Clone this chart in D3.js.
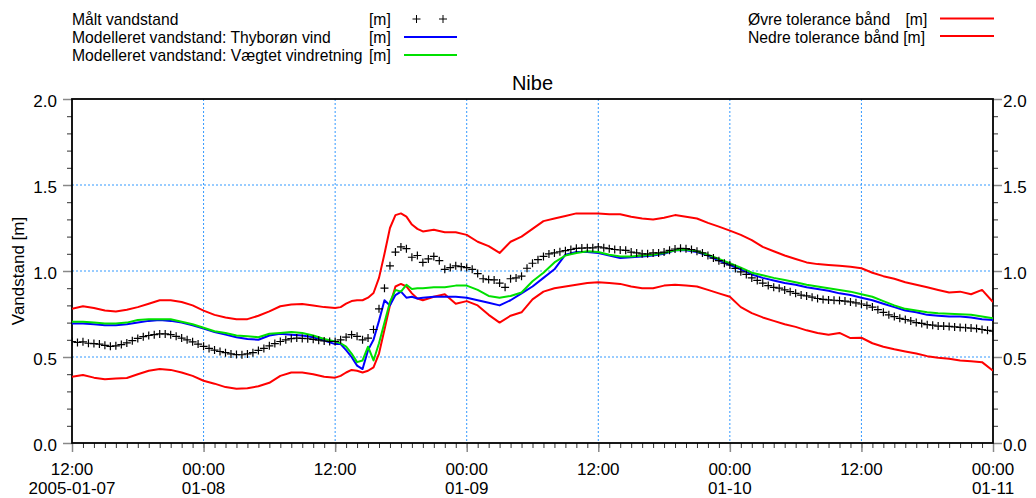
<!DOCTYPE html>
<html><head><meta charset="utf-8">
<script src="https://cdn.jsdelivr.net/npm/d3@7"></script>
<style>
body{margin:0;background:#fff}
svg{display:block;font-family:"Liberation Sans",Arial,sans-serif}
</style>
</head><body>
<svg id="c" width="1036" height="498"></svg>
<script>
// ---------- data ----------
const startTime = Date.UTC(2005, 0, 7, 12);
const endTime = Date.UTC(2005, 0, 11, 0);

const chartTitle = "Nibe";
const yAxisTitle = "Vandstand [m]";

const modelHours = [0,1,2,3,4,5,6,7,8,9,10,11,12,13,14,15,16,17,18,19,20,21,22,23,24,
  24.5,25,25.5,26,26.5,27,27.5,28,28.5,29,29.5,30,30.5,31,31.5,32,
  33,34,35,36,37,38,39,40,41,42,43,44,45,46,47,48,49,50,51,52,53,54,55,56,57,58,59,60,
  61,62,63,64,65,66,67,68,69,70,71,72,73,74,75,76,77,78,79,80,81,82,83,84];

const upperBand = [.78,.795,.785,.77,.765,.775,.79,.81,.83,.83,.82,.80,.77,.745,.73,.72,.72,.74,.765,.795,.805,.808,.80,.79,.785,
  .79,.81,.825,.83,.83,.845,.872,.96,1.10,1.25,1.325,1.335,1.316,1.27,1.245,1.23,
  1.24,1.225,1.225,1.21,1.17,1.145,1.105,1.17,1.20,1.245,1.29,1.305,1.32,1.335,1.335,1.335,1.33,1.33,1.315,1.305,
  1.30,1.31,1.325,1.315,1.305,1.28,1.258,1.235,1.21,1.18,1.14,1.115,1.09,1.07,1.05,1.04,1.035,1.03,1.025,1.016,
  .99,.97,.955,.935,.92,.905,.89,.875,.88,.865,.89,.82];

const lowerBand = [.385,.395,.38,.37,.375,.378,.40,.42,.43,.425,.41,.39,.362,.345,.325,.315,.318,.33,.35,.39,.41,.41,.40,.385,.38,
  .39,.41,.425,.42,.41,.42,.44,.52,.66,.80,.91,.925,.91,.87,.84,.83,
  .85,.865,.81,.825,.80,.745,.70,.74,.76,.835,.88,.90,.91,.92,.93,.935,.93,.925,.91,.90,
  .90,.915,.92,.915,.91,.89,.87,.85,.79,.755,.73,.71,.69,.675,.655,.64,.63,.64,.61,.612,
  .58,.56,.545,.532,.52,.505,.495,.49,.48,.475,.47,.42];

const modelThyboron = [.695,.695,.69,.685,.685,.69,.70,.71,.715,.71,.70,.685,.665,.645,.63,.615,.605,.60,.625,.635,.63,.625,.615,.595,.575,
  .575,.54,.50,.45,.43,.54,.60,.71,.83,.80,.86,.88,.845,.85,.84,.845,
  .85,.85,.85,.845,.83,.815,.80,.83,.87,.91,.96,1.01,1.095,1.11,1.11,1.105,1.09,1.075,1.08,1.085,
  1.09,1.10,1.12,1.12,1.11,1.09,1.06,1.035,1.01,.98,.96,.945,.93,.92,.905,.895,.885,.87,.86,.845,
  .83,.81,.79,.77,.76,.745,.74,.735,.735,.73,.72,.715];

const modelWeighted = [.705,.705,.70,.695,.695,.70,.715,.72,.72,.72,.705,.69,.67,.65,.64,.625,.62,.615,.635,.64,.645,.64,.625,.605,.59,
  .58,.56,.52,.47,.48,.56,.48,.58,.70,.82,.89,.88,.92,.895,.90,.90,
  .905,.905,.915,.915,.89,.855,.845,.855,.875,.94,.99,1.05,1.09,1.105,1.115,1.11,1.095,1.085,1.085,1.09,
  1.095,1.105,1.12,1.125,1.115,1.095,1.07,1.045,1.02,.99,.975,.96,.948,.935,.92,.91,.90,.89,.88,.865,
  .85,.825,.80,.78,.77,.76,.755,.752,.748,.745,.735,.725];

const measuredHours = d3.range(0, 84.001, 0.5);
const measured = [.590,.585,.588,.580,.578,.575,.568,.562,.565,.572,.582,.595,.608,.618,.625,.630,.634,.634,.630,.620,
  .610,.600,.588,.575,.562,.550,.540,.532,.525,.518,.514,.513,.518,.525,.538,.550,.565,.578,.590,.600,
  .607,.610,.608,.606,.603,.598,.593,.590,.590,
  .600,.615,.630,.620,.600,.610,.660,.780,.900,1.030,1.110,1.140,1.130,1.080,1.090,1.050,
  1.07,1.085,1.06,1.01,1.02,1.03,1.025,1.02,1.01,.985,
  .955,.95,.948,.93,.905,.955,.96,.97,1.016,1.045,
  1.066,1.085,1.099,1.105,1.112,1.118,1.125,1.132,1.133,1.135,
  1.135,1.14,1.135,1.13,1.125,1.122,1.12,1.11,1.105,1.10,
  1.10,1.105,1.105,1.11,1.12,1.128,1.132,1.13,1.125,1.115,
  1.105,1.09,1.075,1.06,1.045,1.035,1.015,.995,.98,.96,
  .945,.93,.915,.905,.90,.89,.88,.87,.86,.855,
  .848,.84,.835,.832,.83,.828,.825,.82,.815,.808,
  .80,.79,.775,.76,.745,.735,.725,.718,.71,.70,
  .695,.688,.685,.68,.68,.678,.675,.672,.67,.668,
  .665,.66,.655,.65];

const yMajorTicks = [0, 0.5, 1.0, 1.5, 2.0];
const yTickLabels = ["0.0", "0.5", "1.0", "1.5", "2.0"];

const legendLeft = [
  {label: "Målt vandstand", unit: "[m]", kind: "plus"},
  {label: "Modelleret vandstand: Thyborøn vind", unit: "[m]", kind: "line", color: "#0000ff"},
  {label: "Modelleret vandstand: Vægtet vindretning", unit: "[m]", kind: "line", color: "#00e000"}
];
const legendRight = [
  {label: "Øvre tolerance bånd", unit: "[m]", color: "#ff0000"},
  {label: "Nedre tolerance bånd", unit: "[m]", color: "#ff0000"}
];

// ---------- chart ----------
const svg = d3.select("#c");
const P = {l: 72, r: 993, t: 99, b: 443};
const x = d3.scaleUtc().domain([new Date(startTime), new Date(endTime)]).range([P.l, P.r]);
const y = d3.scaleLinear().domain([0, 2]).range([P.b, P.t]);
const toDate = h => new Date(startTime + h * 3600e3);

svg.append("defs").append("clipPath").attr("id", "clip")
  .append("rect").attr("x", P.l).attr("y", P.t).attr("width", P.r - P.l).attr("height", P.b - P.t);

// grid
const gridColor = "#3399ff";
const majorX = d3.utcHour.every(12).range(new Date(startTime), new Date(endTime + 1));
svg.append("g").selectAll("line").data(majorX.filter(d => +d > startTime && +d < endTime)).join("line")
  .attr("x1", d => x(d)).attr("x2", d => x(d)).attr("y1", P.t).attr("y2", P.b)
  .attr("stroke", gridColor).attr("stroke-width", 1).attr("stroke-dasharray", "2,2");
svg.append("g").selectAll("line").data(yMajorTicks.filter(v => v > 0 && v < 2)).join("line")
  .attr("x1", P.l).attr("x2", P.r).attr("y1", d => y(d)).attr("y2", d => y(d))
  .attr("stroke", gridColor).attr("stroke-width", 1).attr("stroke-dasharray", "2,2");

// axes ticks
function styleAxis(g, color, w) {
  g.select(".domain").remove();
  g.selectAll(".tick line").attr("stroke", color).attr("stroke-width", w);
  g.selectAll(".tick text").remove();
}
const hourly = d3.utcHour.every(1).range(new Date(startTime), new Date(endTime + 1));
svg.append("g").attr("transform", `translate(0,${P.b})`)
  .call(d3.axisBottom(x).tickValues(hourly).tickSize(5)).call(g => styleAxis(g, "#333", 1));
svg.append("g").attr("transform", `translate(0,${P.b})`)
  .call(d3.axisBottom(x).tickValues(majorX).tickSize(9)).call(g => styleAxis(g, "#888", 1.5));

const yMinor = d3.range(0, 2.001, 0.1);
svg.append("g").attr("transform", `translate(${P.l},0)`)
  .call(d3.axisLeft(y).tickValues(yMinor).tickSize(5)).call(g => styleAxis(g, "#333", 1));
svg.append("g").attr("transform", `translate(${P.l},0)`)
  .call(d3.axisLeft(y).tickValues(yMajorTicks).tickSize(9)).call(g => styleAxis(g, "#888", 1.5));
svg.append("g").attr("transform", `translate(${P.r},0)`)
  .call(d3.axisRight(y).tickValues(yMinor).tickSize(5)).call(g => styleAxis(g, "#333", 1));
svg.append("g").attr("transform", `translate(${P.r},0)`)
  .call(d3.axisRight(y).tickValues(yMajorTicks).tickSize(9)).call(g => styleAxis(g, "#888", 1.5));

// tick labels
const lblFont = 17;
svg.append("g").selectAll("text").data(yMajorTicks).join("text")
  .attr("x", P.l - 15).attr("y", d => y(d) + 7.5).attr("text-anchor", "end")
  .attr("font-size", lblFont).attr("fill", "#000").text((d, i) => yTickLabels[i]);
svg.append("g").selectAll("text").data(yMajorTicks).join("text")
  .attr("x", P.r + 10).attr("y", d => y(d) + 7.5).attr("text-anchor", "start")
  .attr("font-size", lblFont).attr("fill", "#000").text((d, i) => yTickLabels[i]);

const fmtTime = d3.utcFormat("%H:%M");
const fmtDay = d3.utcFormat("%m-%d");
const fmtFull = d3.utcFormat("%Y-%m-%d");
const xl = svg.append("g").selectAll("text").data(majorX).join("text")
  .attr("text-anchor", "middle").attr("font-size", lblFont).attr("fill", "#000");
xl.append("tspan").attr("x", d => x(d)).attr("y", 475).text(d => fmtTime(d));
xl.append("tspan").attr("x", d => x(d)).attr("y", 494)
  .text(d => +d === startTime ? fmtFull(d) : (d.getUTCHours() === 0 ? fmtDay(d) : ""));

// frame
svg.append("rect").attr("x", P.l).attr("y", P.t).attr("width", P.r - P.l).attr("height", P.b - P.t)
  .attr("fill", "none").attr("stroke", "#000").attr("stroke-width", 1.8);

// series
const line = d3.line().x(d => x(toDate(d[0]))).y(d => y(d[1]));
const plot = svg.append("g").attr("clip-path", "url(#clip)");
function drawLine(vals, color) {
  plot.append("path").datum(modelHours.map((h, i) => [h, vals[i]]))
    .attr("d", line).attr("fill", "none").attr("stroke", color).attr("stroke-width", 2)
    .attr("stroke-linejoin", "round");
}
drawLine(upperBand, "#ff0000");
drawLine(lowerBand, "#ff0000");
drawLine(modelThyboron, "#0000ff");
drawLine(modelWeighted, "#00e000");

const plus = "M-4,0H4M0,-4V4";
plot.append("g").selectAll("path").data(measuredHours.map((h, i) => [h, measured[i]])).join("path")
  .attr("transform", d => `translate(${x(toDate(d[0]))},${y(d[1])})`)
  .attr("d", plus).attr("stroke", "#000").attr("stroke-width", 1.2).attr("fill", "none");

// title
svg.append("text").attr("x", (P.l + P.r) / 2).attr("y", 90).attr("text-anchor", "middle")
  .attr("font-size", 20).attr("fill", "#000").text(chartTitle);
svg.append("text").attr("transform", `translate(24,${(P.t + P.b) / 2}) rotate(-90)`)
  .attr("text-anchor", "middle").attr("font-size", lblFont).attr("fill", "#000").text(yAxisTitle);

// legend
const legFont = 15.7;
const lg = svg.append("g");
legendLeft.forEach((e, i) => {
  const by = 25 + i * 18;
  const cy = by - 6;
  lg.append("text").attr("x", 72).attr("y", by).attr("font-size", legFont).text(e.label);
  lg.append("text").attr("x", 369).attr("y", by).attr("font-size", legFont).text(e.unit);
  if (e.kind === "plus") {
    [416.5, 443].forEach(px => lg.append("path").attr("d", plus)
      .attr("transform", `translate(${px},${cy})`).attr("stroke", "#000").attr("stroke-width", 1));
  } else {
    lg.append("line").attr("x1", 404).attr("x2", 457).attr("y1", cy).attr("y2", cy)
      .attr("stroke", e.color).attr("stroke-width", 2);
  }
});
legendRight.forEach((e, i) => {
  const by = 25 + i * 17.5;
  const cy = by - 6.5;
  const t = lg.append("text").attr("x", 748).attr("y", by).attr("font-size", legFont).text(e.label);
  if (i === 0) lg.append("text").attr("x", 905.5).attr("y", by).attr("font-size", legFont).text(e.unit);
  else t.text(e.label + " " + e.unit);
  lg.append("line").attr("x1", 940).attr("x2", 994).attr("y1", cy).attr("y2", cy)
    .attr("stroke", e.color).attr("stroke-width", 2);
});
</script>
</body></html>
